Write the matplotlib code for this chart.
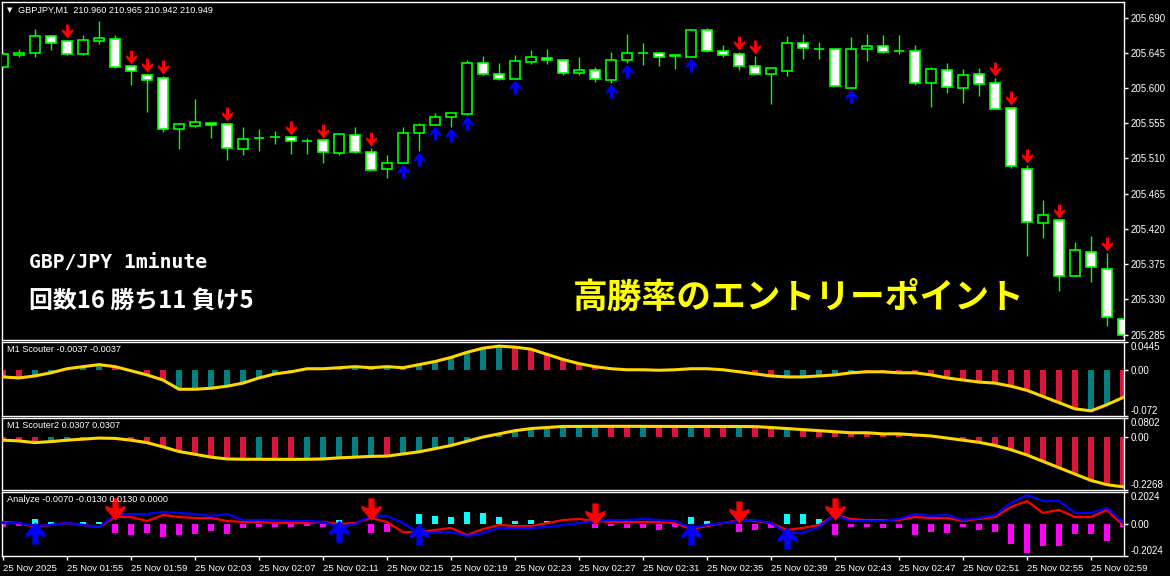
import numpy as np
import matplotlib.pyplot as plt
from matplotlib.path import Path
from matplotlib.patches import Rectangle

W, H = 1170, 576

# ---- price data (GBPJPY M1, 01:51 -> 03:01) ----
opens = [205.627, 205.642, 205.645, 205.667, 205.660, 205.643, 205.660, 205.663, 205.628, 205.617,
         205.613, 205.548, 205.551, 205.555, 205.554, 205.522, 205.536, 205.537, 205.537, 205.532,
         205.534, 205.517, 205.540, 205.518, 205.496, 205.504, 205.542, 205.553, 205.563, 205.567,
         205.632, 205.618, 205.611, 205.633, 205.638, 205.636, 205.619, 205.623, 205.610, 205.636,
         205.645, 205.645, 205.642, 205.640, 205.674, 205.647, 205.643, 205.628, 205.618, 205.622,
         205.658, 205.650, 205.650, 205.600, 205.650, 205.654, 205.647, 205.647, 205.606, 205.623,
         205.600, 205.618, 205.606, 205.574, 205.496, 205.427, 205.431, 205.360, 205.391, 205.369,
         205.305]
highs = [205.646, 205.650, 205.675, 205.668, 205.661, 205.668, 205.686, 205.668, 205.628, 205.618,
         205.615, 205.555, 205.586, 205.557, 205.555, 205.550, 205.548, 205.545, 205.537, 205.536,
         205.534, 205.541, 205.550, 205.523, 205.514, 205.550, 205.555, 205.568, 205.568, 205.636,
         205.641, 205.632, 205.642, 205.649, 205.650, 205.636, 205.640, 205.627, 205.646, 205.669,
         205.658, 205.646, 205.643, 205.675, 205.677, 205.655, 205.646, 205.641, 205.626, 205.666,
         205.669, 205.659, 205.650, 205.665, 205.669, 205.668, 205.668, 205.655, 205.627, 205.632,
         205.624, 205.626, 205.613, 205.576, 205.502, 205.457, 205.431, 205.403, 205.411, 205.389,
         205.305]
lows = [205.626, 205.640, 205.640, 205.649, 205.642, 205.642, 205.656, 205.626, 205.604, 205.569,
        205.544, 205.522, 205.550, 205.536, 205.508, 205.514, 205.519, 205.528, 205.516, 205.516,
        205.504, 205.514, 205.517, 205.495, 205.485, 205.504, 205.519, 205.553, 205.550, 205.565,
        205.617, 205.610, 205.611, 205.631, 205.631, 205.617, 205.617, 205.608, 205.606, 205.632,
        205.629, 205.628, 205.624, 205.640, 205.646, 205.640, 205.623, 205.618, 205.580, 205.615,
        205.637, 205.637, 205.603, 205.600, 205.635, 205.645, 205.643, 205.604, 205.576, 205.594,
        205.581, 205.590, 205.573, 205.498, 205.386, 205.408, 205.340, 205.360, 205.352, 205.296,
        205.282]
closes = [205.643, 205.645, 205.667, 205.658, 205.643, 205.661, 205.664, 205.627, 205.622, 205.610,
          205.548, 205.554, 205.557, 205.553, 205.523, 205.535, 205.536, 205.537, 205.532, 205.532,
          205.518, 205.541, 205.518, 205.495, 205.504, 205.542, 205.553, 205.563, 205.568, 205.632,
          205.618, 205.611, 205.635, 205.640, 205.636, 205.619, 205.623, 205.611, 205.636, 205.645,
          205.645, 205.640, 205.641, 205.674, 205.647, 205.642, 205.628, 205.618, 205.626, 205.658,
          205.651, 205.650, 205.603, 205.650, 205.654, 205.646, 205.647, 205.606, 205.624, 205.601,
          205.617, 205.605, 205.573, 205.500, 205.429, 205.438, 205.360, 205.393, 205.371, 205.307,
          205.285]

sell_bars = [4, 8, 9, 10, 14, 18, 20, 23, 46, 47, 62, 63, 64, 66, 69]
buy_bars = [25, 26, 27, 28, 29, 32, 38, 39, 43, 53]

# ---- M1 Scouter (value, histogram colour: r = falling, t = rising) ----
scouter = [-0.0105, -0.0121, -0.0089, -0.0040, 0.0024, 0.0057, 0.0089, 0.0057, -0.0008, -0.0073,
           -0.0154, -0.0299, -0.0299, -0.0283, -0.0251, -0.0202, -0.0121, -0.0057, -0.0024, 0.0024,
           0.0024, 0.0040, 0.0057, 0.0040, 0.0057, 0.0040, 0.0089, 0.0138, 0.0202, 0.0283,
           0.0348, 0.0380, 0.0364, 0.0332, 0.0251, 0.0170, 0.0105, 0.0057, 0.0024, 0.0008,
           0.0008, 0.0000, 0.0008, 0.0024, 0.0024, 0.0008, -0.0024, -0.0057, -0.0089, -0.0105,
           -0.0105, -0.0089, -0.0073, -0.0040, -0.0024, -0.0024, -0.0040, -0.0040, -0.0073, -0.0121,
           -0.0154, -0.0186, -0.0202, -0.0251, -0.0316, -0.0413, -0.0510, -0.0607, -0.0639, -0.0542,
           -0.0429]
scouter_col = ('rrttttt'   'rrrr'  'tttttttttt' 'tt'  'rt' 'ttttttt' 'rrrrrrrr' 'tttt'
               'rrrrr'  'tttt' 'trrrr' 'rrrrrrrrrr' 'tt')

# ---- M1 Scouter2 ----
scouter2 = [-0.0144, -0.0176, -0.0248, -0.0203, -0.0144, -0.0099, -0.0054, -0.0068, -0.0144, -0.0248,
            -0.0429, -0.0628, -0.0745, -0.0867, -0.0944, -0.0957, -0.0957, -0.0960, -0.0962, -0.0957,
            -0.0944, -0.0898, -0.0867, -0.0835, -0.0822, -0.0731, -0.0641, -0.0506, -0.0370, -0.0190,
            -0.0009, 0.0126, 0.0262, 0.0352, 0.0397, 0.0442, 0.0442, 0.0445, 0.0447, 0.0447,
            0.0445, 0.0442, 0.0442, 0.0440, 0.0442, 0.0440, 0.0440, 0.0435, 0.0397, 0.0352,
            0.0307, 0.0262, 0.0217, 0.0172, 0.0172, 0.0126, 0.0126, 0.0081, 0.0036, -0.0054,
            -0.0144, -0.0235, -0.0370, -0.0551, -0.0777, -0.1048, -0.1319, -0.1590, -0.1861, -0.2042,
            -0.2132]
scouter2_col = ('rrrtttt' 'rrrrrrrrr' 'trr' 'ttttt' 'r' 'tttttttttt' 'tttrrtrrtr'
                'rtrrtrr' 'rrrrrrrrrrrr' 'rrrrrr')

# ---- Analyze ----
ana_hist = [-0.020, -0.010, 0.030, 0.010, 0.005, 0.010, 0.015, -0.060, -0.067, -0.060,
            -0.085, -0.067, -0.063, -0.042, -0.063, -0.027, -0.021, -0.021, -0.021, -0.015,
            -0.021, 0.027, 0.010, -0.060, -0.053, 0.000, 0.063, 0.050, 0.046, 0.078,
            0.067, 0.046, 0.021, 0.027, 0.021, 0.000, 0.000, -0.027, -0.015, -0.027,
            -0.027, -0.036, -0.021, 0.042, 0.017, 0.005, -0.053, -0.038, -0.027, 0.065,
            0.063, 0.032, -0.070, -0.021, -0.021, -0.027, -0.027, -0.067, -0.048, -0.060,
            -0.021, -0.036, -0.053, -0.126, -0.185, -0.141, -0.141, -0.063, -0.063, -0.105,
            -0.020]
ana_blue = [0.006, 0.006, -0.013, -0.006, 0.006, -0.006, -0.019, 0.057, 0.063, 0.063,
            0.076, 0.070, 0.063, 0.051, 0.063, 0.025, 0.025, 0.025, 0.019, 0.019,
            0.013, -0.019, 0.000, 0.051, 0.051, 0.006, -0.057, -0.051, -0.051, -0.076,
            -0.057, -0.025, -0.025, -0.025, -0.019, -0.006, 0.006, 0.019, 0.025, 0.025,
            0.032, 0.025, 0.019, -0.025, -0.006, 0.006, 0.019, 0.025, 0.006, -0.057,
            -0.057, -0.019, 0.057, 0.019, 0.019, 0.019, 0.032, 0.063, 0.051, 0.057,
            0.025, 0.038, 0.057, 0.133, 0.183, 0.145, 0.145, 0.070, 0.070, 0.101,
            0.013]
ana_red = [0.013, 0.006, -0.019, -0.006, 0.006, -0.006, -0.019, 0.044, 0.044, 0.019,
           0.057, 0.044, 0.038, 0.038, 0.019, 0.013, 0.013, 0.006, 0.006, 0.006,
           0.013, 0.000, 0.006, 0.038, 0.013, -0.051, -0.051, -0.038, -0.025, -0.070,
           -0.032, -0.006, -0.013, -0.013, 0.006, 0.025, 0.032, 0.019, 0.013, 0.013,
           0.013, 0.013, 0.006, -0.032, -0.013, 0.006, 0.025, 0.019, 0.006, -0.038,
           -0.025, -0.006, 0.057, 0.032, 0.025, 0.025, 0.025, 0.044, 0.038, 0.038,
           0.019, 0.032, 0.044, 0.108, 0.145, 0.070, 0.089, 0.044, 0.044, 0.089,
           -0.007]
ana_sell_bars = [7, 23, 37, 46, 52]
ana_sell_vals = [0.025, 0.025, -0.006, 0.006, 0.025]
ana_buy_bars = [2, 21, 26, 43, 49]
ana_buy_vals = [0.015, 0.025, 0.006, 0.006, -0.019]

price_ticks = [205.285, 205.330, 205.375, 205.420, 205.465, 205.510, 205.555, 205.600, 205.645, 205.690]
time_tick_bars = list(range(0, 71, 4))
time_labels = ['25 Nov 2025', '25 Nov 01:55', '25 Nov 01:59', '25 Nov 02:03', '25 Nov 02:07',
               '25 Nov 02:11', '25 Nov 02:15', '25 Nov 02:19', '25 Nov 02:23', '25 Nov 02:27',
               '25 Nov 02:31', '25 Nov 02:35', '25 Nov 02:39', '25 Nov 02:43', '25 Nov 02:47',
               '25 Nov 02:51', '25 Nov 02:55', '25 Nov 02:59']

GREEN = '#00ff00'
JP = ['Noto Sans CJK JP', 'DejaVu Sans']
SMALL = 'Liberation Sans'

plt.rcParams['font.family'] = SMALL
fig = plt.figure(figsize=(W / 100, H / 100), dpi=100, facecolor='black')

# arrow glyphs (MT4 style)
down_small = Path([(-0.22, 1), (0.22, 1), (0.22, 0.0), (0.8, 0.35), (0.8, 0.0), (0, -1),
                   (-0.8, 0.0), (-0.8, 0.35), (-0.22, 0.0), (-0.22, 1)])
up_small = Path([(x, -y) for x, y in down_small.vertices])
down_big = Path([(-0.28, 1), (0.28, 1), (0.28, 0.1), (0.9, 0.35), (0.9, 0.05), (0, -1),
                 (-0.9, 0.05), (-0.9, 0.35), (-0.28, 0.1), (-0.28, 1)])
up_big = Path([(x, -y) for x, y in down_big.vertices])


def make_ax(y0, y1):
    ax = fig.add_axes([2 / W, 1 - y1 / H, 1122 / W, (y1 - y0) / H])
    ax.set_facecolor('black')
    for s in ax.spines.values():
        s.set_color('white')
        s.set_linewidth(1)
    ax.set_xlim(-1 / 16, 1121 / 16)
    ax.set_xticks([])
    ax.yaxis.tick_right()
    ax.tick_params(axis='y', colors='white', labelsize=7, length=3, width=1, pad=2)
    return ax


def px(ax, n):
    # n screen pixels expressed in data units of the y axis
    lo, hi = ax.get_ylim()
    return n * (hi - lo) / (ax.get_position().height * H)


idx = np.arange(len(opens))

# ---------------- main chart ----------------
ax = make_ax(2, 340)
ax.set_ylim(205.278, 205.710)
ax.vlines(idx, lows, highs, color=GREEN, lw=1, zorder=2)
for i in idx:
    o, c = opens[i], closes[i]
    fc = 'white' if c < o else 'black'
    ax.add_patch(Rectangle((i - 0.31, min(o, c)), 0.62, abs(c - o), facecolor=fc,
                           edgecolor=GREEN, lw=1.2, zorder=3))
ax.plot(sell_bars, np.array(highs)[sell_bars] + px(ax, 9), ls='none', marker=down_small,
        markersize=10, color='#ff0000', markeredgewidth=0, zorder=4)
ax.plot(buy_bars, np.array(lows)[buy_bars] - px(ax, 8), ls='none', marker=up_small,
        markersize=10, color='#0000ff', markeredgewidth=0, zorder=4)
ax.set_yticks(price_ticks)
ax.set_yticklabels([f'{p:.3f}' for p in price_ticks])

fig.text(7 / W, 1 - 10 / H, '\u25bc', color='white', fontsize=5, va='center', family='DejaVu Sans')
fig.text(18 / W, 1 - 10 / H, 'GBPJPY,M1  210.960 210.965 210.942 210.949', color='white',
         fontsize=6.6, va='center')
fig.text(29 / W, 1 - 262 / H, 'GBP/JPY 1minute', color='white', fontsize=14.2,
         family='DejaVu Sans Mono', fontweight='bold', va='center')
fig.text(29 / W, 1 - 301 / H, '回数16 勝ち11 負け5', color='white', fontsize=17.2,
         family=JP, fontweight='bold', va='center')
fig.text(573 / W, 1 - 297 / H, '高勝率のエントリーポイント', color='#ffff00', fontsize=25,
         family=JP, fontweight='bold', va='center')


def scouter_panel(y0, y1, vals, cols, lo, hi, labels, title):
    a = make_ax(y0, y1)
    a.set_ylim(lo, hi)
    colors = ['#008080' if c == 't' else '#dc143c' for c in cols]
    a.bar(idx, vals, width=0.32, color=colors, zorder=2)
    a.plot(idx, vals, color='#ffd700', lw=2.2, zorder=3)
    a.set_yticks([lo, 0, hi])
    a.set_yticklabels(labels)
    tl = a.get_yticklabels()
    tl[0].set_va('bottom')
    tl[2].set_va('top')
    fig.text(7 / W, 1 - (y0 + 7) / H, title, color='white', fontsize=6.6, va='center')
    return a


scouter_panel(342, 416, scouter, scouter_col, -0.072, 0.0445, ['-0.072', '0.00', '0.0445'],
              'M1 Scouter -0.0037 -0.0037')
scouter_panel(418, 490, scouter2, scouter2_col, -0.2268, 0.0802, ['-0.2268', '0.00', '0.0802'],
              'M1 Scouter2 0.0307 0.0307')

# ---------------- Analyze ----------------
a3 = make_ax(492, 556)
a3.set_ylim(-0.2024, 0.2024)
h = np.array(ana_hist)
a3.bar(idx, h, width=0.42, color=np.where(h >= 0, '#00ffff', '#ff00ff'), zorder=2)
a3.plot(idx, ana_red, color='#ff0000', lw=1.6, zorder=3)
a3.plot(idx, ana_blue, color='#0000ff', lw=1.6, zorder=3)
a3.plot(ana_sell_bars, np.array(ana_sell_vals) + px(a3, 11), ls='none', marker=down_big,
        markersize=16, color='#ff0000', markeredgewidth=0, zorder=4, clip_on=False)
a3.plot(ana_buy_bars, np.array(ana_buy_vals) - px(a3, 11), ls='none', marker=up_big,
        markersize=16, color='#0000ff', markeredgewidth=0, zorder=4, clip_on=False)
a3.set_yticks([-0.2024, 0, 0.2024])
a3.set_yticklabels(['-0.2024', '0.00', '0.2024'])
tl = a3.get_yticklabels()
tl[0].set_va('bottom')
tl[2].set_va('top')
fig.text(7 / W, 1 - 499 / H, 'Analyze -0.0070 -0.0130 0.0130 0.0000', color='white',
         fontsize=6.6, va='center')

a3.set_xticks(time_tick_bars)
a3.set_xticklabels(time_labels, ha='left')
a3.tick_params(axis='x', colors='white', labelsize=6.8, length=3, width=1, pad=3)

fig.savefig('out.png', dpi=100, facecolor='black')
